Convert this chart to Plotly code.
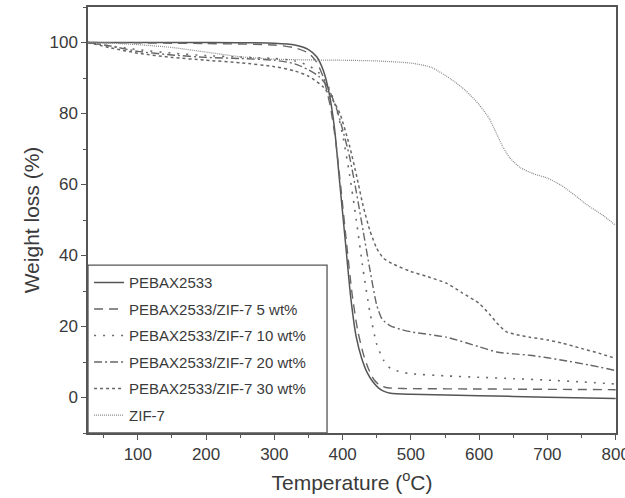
import plotly.graph_objects as go

# ---------------- data ----------------
series_names = ["PEBAX2533", "PEBAX2533/ZIF-7 5 wt%", "PEBAX2533/ZIF-7 10 wt%",
                "PEBAX2533/ZIF-7 20 wt%", "PEBAX2533/ZIF-7 30 wt%", "ZIF-7"]

t_pebax = [27, 100, 200, 300, 330, 350, 362, 372, 380, 388, 396, 404, 412, 420, 428, 436, 444, 452, 460, 470, 500, 600, 700, 800]
w_pebax = [100, 100, 100, 99.8, 99.3, 98, 96, 92, 86, 76, 60, 44, 28, 17, 11, 7, 4.5, 2.8, 1.8, 1.2, 0.9, 0.5, 0.1, -0.3]

t_5wt = [27, 100, 200, 300, 330, 350, 362, 372, 382, 390, 398, 406, 414, 422, 430, 438, 446, 454, 462, 475, 500, 600, 700, 800]
w_5wt = [100, 99.9, 99.7, 99.3, 98.5, 97, 94.5, 90, 82, 72, 58, 43, 29, 19, 12.5, 8, 5, 3.5, 2.9, 2.6, 2.5, 2.4, 2.3, 2.2]

t_10wt = [27, 60, 100, 150, 200, 250, 300, 330, 350, 365, 378, 390, 400, 410, 420, 430, 440, 450, 460, 470, 485, 500, 550, 600, 650, 700, 750, 800]
w_10wt = [100, 99, 98, 97, 96.3, 95.9, 95.5, 94.8, 93.5, 91.5, 88, 82, 74, 63, 50, 36, 24, 15, 10.5, 8.2, 7.2, 6.7, 6.1, 5.7, 5.3, 4.9, 4.4, 3.8]

t_20wt = [27, 60, 100, 150, 200, 250, 300, 330, 350, 365, 378, 390, 400, 410, 420, 430, 440, 450, 458, 470, 485, 503, 552, 600, 626, 650, 674, 700, 722, 760, 800]
w_20wt = [100, 99, 97.5, 96.5, 95.8, 95.5, 95, 94, 92.3, 90.5, 87.5, 82, 75.5, 68, 58, 47, 36, 26, 22, 20.2, 19.2, 18.4, 17, 14.3, 12.8, 12.3, 11.9, 11.2, 10.5, 9.2, 7.6]

t_30wt = [27, 60, 100, 150, 200, 250, 300, 330, 350, 371, 385, 396, 410, 421, 430, 440, 450, 460, 475, 500, 525, 552, 575, 600, 615, 626, 640, 655, 674, 700, 722, 750, 775, 800]
w_30wt = [100, 98.5, 97, 95.8, 95, 94.3, 93.2, 92, 90.5, 87.6, 84, 80, 71, 62, 54, 47, 42, 39.2, 37.5, 35.5, 34, 32.2, 29.5, 26.5, 23.5, 21, 18.5, 17.7, 17, 16.2, 15.3, 13.8, 12.5, 11]

t_zif = [27, 60, 100, 150, 200, 250, 300, 350, 400, 450, 500, 530, 560, 580, 600, 615, 625, 635, 645, 660, 680, 700, 720, 740, 760, 780, 800]
w_zif = [100, 99.8, 99.4, 98.6, 97.3, 96, 95.3, 95.1, 95, 94.8, 94.2, 93, 89.5, 86.5, 82.5, 78.5, 74.5, 70.5, 67.5, 64.8, 63, 61.8, 59.8, 57, 54, 51.5, 48.5]

x_ticks = [100, 200, 300, 400, 500, 600, 700, 800]
y_ticks = [0, 20, 40, 60, 80, 100]

# ---------------- styles ----------------
temps = [t_pebax, t_5wt, t_10wt, t_20wt, t_30wt, t_zif]
weights = [w_pebax, w_5wt, w_10wt, w_20wt, w_30wt, w_zif]
dashes = ["solid", "9px,6px", "2px,7px", "8px,3px,2px,3px", "3px,3px", "1px,1px"]
colors = ["#555555", "#666666", "#6a6a6a", "#666666", "#666666", "#8a8a8a"]
widths = [1.5, 1.4, 1.6, 1.4, 1.5, 1.2]

FONT = "Liberation Sans, Arial, sans-serif"

fig = go.Figure()
for i, name in enumerate(series_names):
    fig.add_trace(go.Scatter(
        x=temps[i], y=weights[i], mode="lines", name=name,
        legendgroup=f"g{i}",
        line=dict(color=colors[i], width=widths[i], dash=dashes[i],
                  shape="spline", smoothing=0.6),
    ))

axis_common = dict(
    showline=True, linecolor="#555555", linewidth=1.5, mirror=True,
    ticks="outside", ticklen=5, tickwidth=1.3, tickcolor="#555555",
    showgrid=False, zeroline=False,
    tickfont=dict(family=FONT, size=17, color="#3a3a3a"),
    ticklabeloverflow="allow",
)

fig.update_xaxes(
    range=[27, 800.5], tickvals=x_ticks,
    minor=dict(ticks="outside", ticklen=3, tickcolor="#555555", dtick=50, tick0=0),
    title=dict(text="Temperature (<sup>o</sup>C)", font=dict(family=FONT, size=21, color="#3a3a3a"), standoff=12),
    **axis_common,
)
fig.update_yaxes(
    range=[-10, 110], tickvals=y_ticks,
    minor=dict(ticks="outside", ticklen=3, tickcolor="#555555", dtick=10, tick0=0),
    title=dict(text="Weight loss (%)", font=dict(family=FONT, size=21, color="#3a3a3a"), standoff=4),
    **axis_common,
)

# legend frame (box reaching the plot's left and bottom edges)
fig.add_shape(type="rect", xref="paper", yref="paper",
              x0=0, x1=0.4527, y0=0, y1=0.394,
              line=dict(color="#555555", width=1.3), fillcolor="white", layer="above")

fig.update_layout(
    width=625, height=498,
    margin=dict(l=88, r=9, t=7, b=65, autoexpand=False),
    paper_bgcolor="white", plot_bgcolor="white",
    showlegend=True,
    legend=dict(
        x=0.002, y=0.004, xanchor="left", yanchor="bottom",
        bgcolor="rgba(0,0,0,0)", borderwidth=0,
        font=dict(family=FONT, size=15, color="#3a3a3a"),
        tracegroupgap=4, traceorder="grouped",
    ),
)

fig.write_html("out.html")
